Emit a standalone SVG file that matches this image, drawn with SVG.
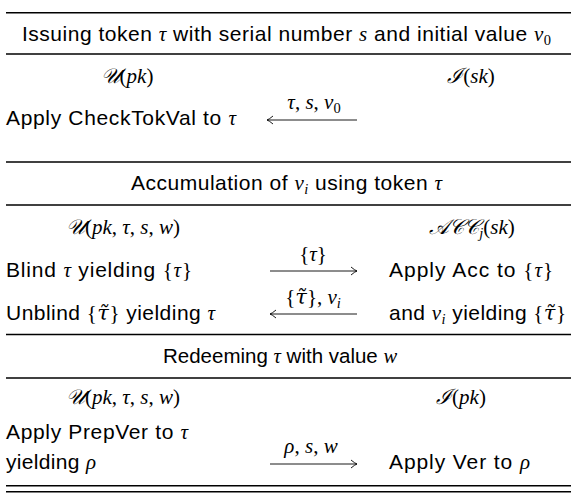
<svg xmlns="http://www.w3.org/2000/svg" width="571" height="494" viewBox="0 0 571 494">
<style>
.t{font-family:"Liberation Sans",Arial,sans-serif;font-size:21px;fill:#000}
.mm{font-size:21px}
.m{font-family:"Liberation Serif","Times New Roman",serif;font-style:italic}
.c{font-family:"DejaVu Serif","Liberation Serif",serif;font-style:italic}
.r{font-family:"Liberation Serif","Times New Roman",serif;font-style:normal}
.s{font-size:14.5px}
.ctr{text-anchor:middle}
.rule{stroke:#000;stroke-width:1.4}
.arr{stroke:#000;stroke-width:0.9;fill:none}
</style>
<defs>
<marker id="h" markerUnits="userSpaceOnUse" markerWidth="12" markerHeight="12" refX="0" refY="0" viewBox="-7 -6 8 12" orient="auto" overflow="visible">
<path d="M-6,-4 Q-2,-0.6 0,0 Q-2,0.6 -6,4" fill="none" stroke="#000" stroke-width="0.9"/>
</marker>
</defs>
<g id="rules">
<line class="rule" x1="6" y1="12.7" x2="571" y2="12.7"/>
<line class="rule" x1="6" y1="54" x2="571" y2="54"/>
<line class="rule" x1="6" y1="162" x2="571" y2="162"/>
<line class="rule" x1="6" y1="205" x2="571" y2="205"/>
<line class="rule" x1="6" y1="334.5" x2="571" y2="334.5"/>
<line class="rule" x1="6" y1="378" x2="571" y2="378"/>
<line class="rule" x1="6" y1="485.7" x2="571" y2="485.7"/>
<line class="rule" x1="6" y1="491.7" x2="571" y2="491.7"/>
</g>
<g id="titles" class="t">
<text id="title-issue" x="22" y="41" textLength="529">Issuing token <tspan class="m">τ</tspan> with serial number <tspan class="m">s</tspan> and initial value <tspan class="m">v</tspan><tspan class="r s" dy="4">0</tspan></text>
<text id="title-acc" x="131" y="190" textLength="311">Accumulation of <tspan class="m">v</tspan><tspan class="m s" dy="4">i</tspan><tspan dy="-4"> using token </tspan><tspan class="m">τ</tspan></text>
<text id="title-redeem" x="163" y="363" style="font-size:20.5px">Redeeming <tspan class="m">τ</tspan> with value <tspan class="m">w</tspan></text>
</g>
<g id="node-user-1" class="t">
<text class="ctr mm" x="127" y="83"><tspan class="c">𝒰</tspan><tspan class="r">(</tspan><tspan class="m">pk</tspan><tspan class="r">)</tspan></text>
<text x="6" y="125" textLength="230">Apply CheckTokVal to <tspan class="m">τ</tspan></text>
</g>
<g id="node-issuer-1" class="t">
<text class="ctr mm" x="471" y="83"><tspan class="c">ℐ</tspan><tspan class="r">(</tspan><tspan class="m">sk</tspan><tspan class="r">)</tspan></text>
</g>
<g id="node-user-2" class="t">
<text class="ctr mm" x="123" y="234"><tspan class="c">𝒰</tspan><tspan class="r">(</tspan><tspan class="m">pk</tspan><tspan class="r">, </tspan><tspan class="m">τ</tspan><tspan class="r">, </tspan><tspan class="m">s</tspan><tspan class="r">, </tspan><tspan class="m">w</tspan><tspan class="r">)</tspan></text>
<text x="6" y="277" textLength="186">Blind <tspan class="m">τ</tspan> yielding <tspan class="r">{</tspan><tspan class="m">τ</tspan><tspan class="r">}</tspan></text>
<text x="6" y="320" textLength="209">Unblind <tspan class="r">{</tspan><tspan class="c">τ̃</tspan><tspan class="r">}</tspan> yielding <tspan class="m">τ</tspan></text>
</g>
<g id="node-acc-2" class="t">
<text class="ctr mm" x="472" y="234"><tspan class="c">𝒜𝒞𝒞</tspan><tspan class="m s" dy="4">j</tspan><tspan class="r" dy="-4">(</tspan><tspan class="m">sk</tspan><tspan class="r">)</tspan></text>
<text x="389" y="277" textLength="164">Apply Acc to <tspan class="r">{</tspan><tspan class="m">τ</tspan><tspan class="r">}</tspan></text>
<text x="389" y="320" textLength="177">and <tspan class="m">v</tspan><tspan class="m s" dy="4">i</tspan><tspan dy="-4"> yielding </tspan><tspan class="r">{</tspan><tspan class="c">τ̃</tspan><tspan class="r">}</tspan></text>
</g>
<g id="node-user-3" class="t">
<text class="ctr mm" x="123" y="404"><tspan class="c">𝒰</tspan><tspan class="r">(</tspan><tspan class="m">pk</tspan><tspan class="r">, </tspan><tspan class="m">τ</tspan><tspan class="r">, </tspan><tspan class="m">s</tspan><tspan class="r">, </tspan><tspan class="m">w</tspan><tspan class="r">)</tspan></text>
<text x="6" y="439" textLength="182">Apply PrepVer to <tspan class="m">τ</tspan></text>
<text x="6" y="469" textLength="90">yielding <tspan class="m">ρ</tspan></text>
</g>
<g id="node-issuer-3" class="t">
<text class="ctr mm" x="461" y="404"><tspan class="c">ℐ</tspan><tspan class="r">(</tspan><tspan class="m">pk</tspan><tspan class="r">)</tspan></text>
<text x="389" y="469" textLength="141">Apply Ver to <tspan class="m">ρ</tspan></text>
</g>
<g id="connectors" class="t">
<path class="arr" d="M357,120 H267" marker-end="url(#h)"/>
<text class="ctr mm" x="314" y="109"><tspan class="m">τ</tspan><tspan class="r">, </tspan><tspan class="m">s</tspan><tspan class="r">, </tspan><tspan class="m">v</tspan><tspan class="r s" dy="4">0</tspan></text>
<path class="arr" d="M270,271 H357" marker-end="url(#h)"/>
<text class="ctr mm" x="313" y="261"><tspan class="r">{</tspan><tspan class="m">τ</tspan><tspan class="r">}</tspan></text>
<path class="arr" d="M357,314 H270" marker-end="url(#h)"/>
<text class="ctr mm" x="313" y="304"><tspan class="r">{</tspan><tspan class="c">τ̃</tspan><tspan class="r">}, </tspan><tspan class="m">v</tspan><tspan class="m s" dy="4">i</tspan></text>
<path class="arr" d="M270,464 H357" marker-end="url(#h)"/>
<text class="ctr mm" x="311" y="453"><tspan class="m">ρ</tspan><tspan class="r">, </tspan><tspan class="m">s</tspan><tspan class="r">, </tspan><tspan class="m">w</tspan></text>
</g>
</svg>
